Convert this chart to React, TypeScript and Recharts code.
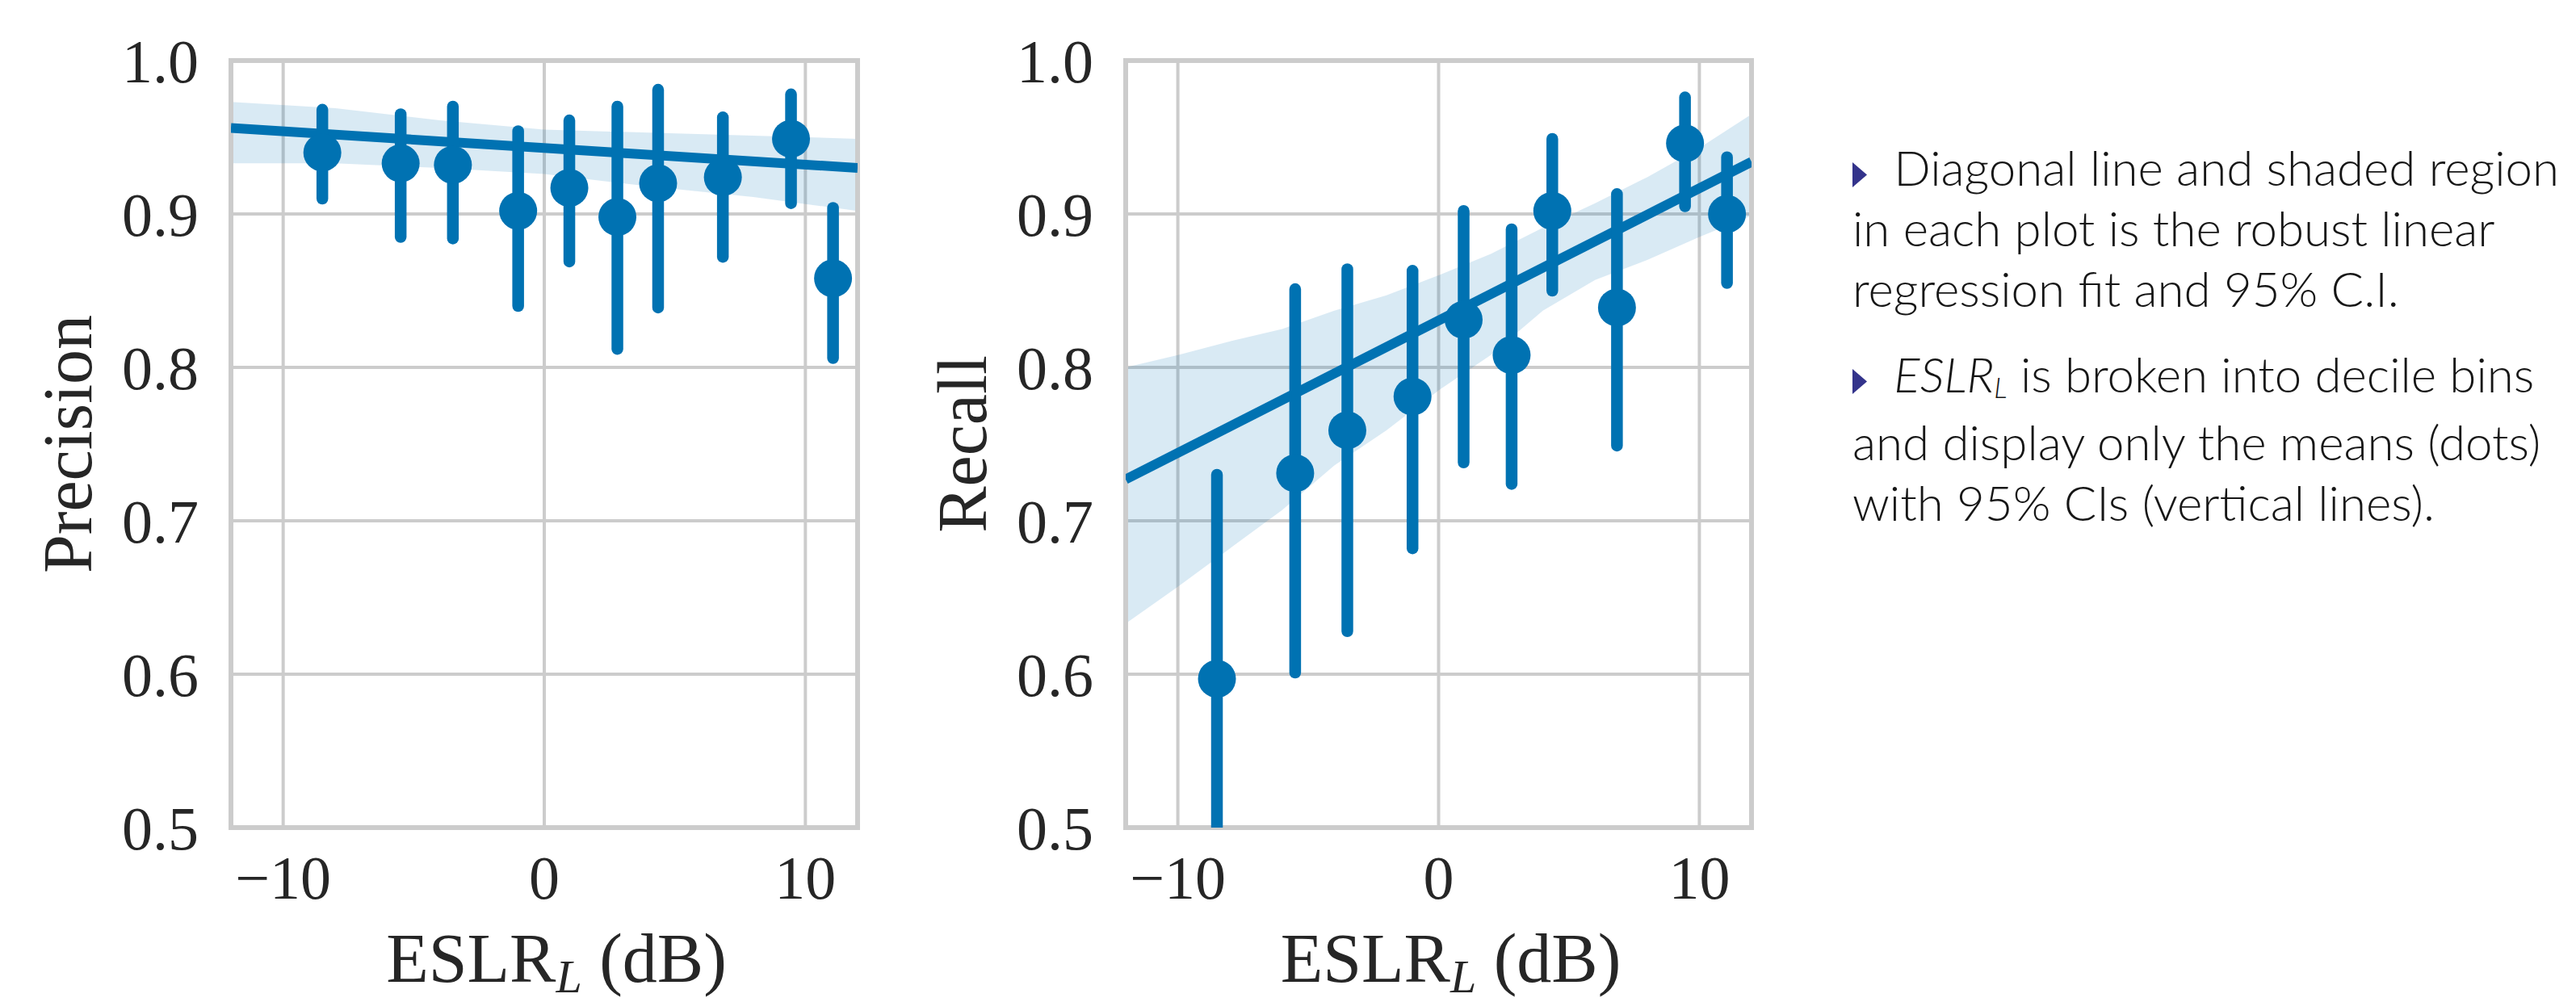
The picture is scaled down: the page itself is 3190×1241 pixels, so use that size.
import React from "react";
import {
  ComposedChart,
  XAxis,
  YAxis,
  CartesianGrid,
  Area,
  Line,
  Scatter,
  ReferenceArea,
} from "recharts";

const BLUE = "#0072b2";
const GRID = "#cccccc";
const INK = "#262626";
const SERIF = "'Liberation Serif', 'DejaVu Serif', serif";
const SANS = "Lato, 'Open Sans', sans-serif";

// decile bin centres (dB)
const binCentres = [-8.5, -5.5, -3.5, -1.0, 0.96, 2.8, 4.36, 6.84, 9.45, 11.06];

const precisionMean = [0.94, 0.933, 0.932, 0.902, 0.917, 0.898, 0.92, 0.924, 0.949, 0.858];
const precisionLow = [0.91, 0.885, 0.884, 0.84, 0.869, 0.812, 0.839, 0.872, 0.907, 0.806];
const precisionHigh = [0.968, 0.965, 0.97, 0.954, 0.961, 0.97, 0.981, 0.963, 0.978, 0.904];

const recallMean = [0.597, 0.731, 0.759, 0.781, 0.831, 0.808, 0.902, 0.839, 0.946, 0.9];
const recallLow = [0.46, 0.601, 0.628, 0.682, 0.738, 0.724, 0.85, 0.749, 0.905, 0.855];
const recallHigh = [0.73, 0.851, 0.864, 0.863, 0.902, 0.89, 0.949, 0.913, 0.976, 0.937];

// robust linear fit, end points
const fitX = [-12, 12];
const precisionFit = [0.956, 0.93];
const recallFit = [0.727, 0.934];

// 95% CI band of the fit
const precisionBandX = [-12, -8, -4, 0, 4, 8, 12];
const precisionBandLow = [0.933, 0.933, 0.93, 0.926, 0.918, 0.911, 0.902];
const precisionBandHigh = [0.973, 0.969, 0.961, 0.955, 0.953, 0.951, 0.949];

const recallBandX = [-12, -10, -8, -6, -4, -2, 0, 2, 4, 6, 8, 10, 12];
const recallBandLow = [0.633, 0.657, 0.682, 0.707, 0.736, 0.759, 0.785, 0.808, 0.837, 0.857, 0.87, 0.885, 0.899];
const recallBandHigh = [0.8, 0.808, 0.817, 0.825, 0.837, 0.847, 0.86, 0.874, 0.891, 0.907, 0.924, 0.943, 0.965];

const xTicks = [-10, 0, 10];
const yTicks = [0.5, 0.6, 0.7, 0.8, 0.9, 1.0];

const toMeans = (mean: number[]) => binCentres.map((x, i) => ({ x, y: mean[i] }));
const toIntervals = (low: number[], high: number[]) =>
  binCentres.map((x, i) => [
    { x, y: low[i] },
    { x, y: high[i] },
  ]);
const toFit = (ys: number[]) => fitX.map((x, i) => ({ x, y: ys[i] }));
const toBand = (xs: number[], lo: number[], hi: number[]) =>
  xs.map((x, i) => ({ x, band: [lo[i], hi[i]] }));

const fmtX = (v: number) => (v < 0 ? "\u2212" + Math.abs(v) : String(v));
const fmtY = (v: number) => v.toFixed(1);

const XLabel = (props: any) => {
  const { x, y, width } = props.viewBox;
  const cx = x + width / 2 + 15;
  return (
    <text x={cx} y={y + 191} textAnchor="middle" fontFamily={SERIF} fontSize={86} fill={INK}>
      ESLR
      <tspan fontStyle="italic" fontSize={58} dy={13}>
        L
      </tspan>
      <tspan dy={-13}> (dB)</tspan>
    </text>
  );
};

const YLabel = (props: any) => {
  const { x, y, width, height } = props.viewBox;
  const bx = x + width - 173;
  const cy = y + height / 2;
  return (
    <text
      x={bx}
      y={cy}
      transform={`rotate(-90 ${bx} ${cy})`}
      textAnchor="middle"
      fontFamily={SERIF}
      fontSize={86}
      fill={INK}
    >
      {props.caption}
    </text>
  );
};

const Dot = (p: any) => <circle cx={p.cx} cy={p.cy} r={23.5} fill={BLUE} />;

interface PanelProps {
  left: number;
  yAxisWidth: number;
  marginRight: number;
  caption: string;
  means: { x: number; y: number }[];
  intervals: { x: number; y: number }[][];
  fit: { x: number; y: number }[];
  band: { x: number; band: number[] }[];
}

const Panel = ({ left, yAxisWidth, marginRight, caption, means, intervals, fit, band }: PanelProps) => (
  <div style={{ position: "absolute", left, top: 0 }}>
    <ComposedChart width={1100} height={1241} margin={{ top: 75, right: marginRight, bottom: 0, left: 0 }}>
      <CartesianGrid stroke={GRID} strokeWidth={4} />
      <XAxis
        type="number"
        dataKey="x"
        domain={[-12, 12]}
        ticks={xTicks}
        allowDataOverflow
        axisLine={false}
        tickLine={false}
        tickSize={0}
        tickMargin={34}
        height={216}
        tickFormatter={fmtX}
        tick={{ fill: INK, fontSize: 76, fontFamily: SERIF }}
        label={<XLabel />}
      />
      <YAxis
        type="number"
        dataKey="y"
        domain={[0.5, 1.0]}
        ticks={yTicks}
        allowDataOverflow
        axisLine={false}
        tickLine={false}
        tickSize={0}
        tickMargin={40}
        width={yAxisWidth}
        tickFormatter={fmtY}
        tick={{ fill: INK, fontSize: 76, fontFamily: SERIF }}
        label={<YLabel caption={caption} />}
      />
      <Area
        data={band}
        dataKey="band"
        type="linear"
        stroke="none"
        fill={BLUE}
        fillOpacity={0.15}
        isAnimationActive={false}
      />
      <Line
        data={fit}
        dataKey="y"
        type="linear"
        stroke={BLUE}
        strokeWidth={12}
        dot={false}
        activeDot={false}
        isAnimationActive={false}
      />
      {intervals.map((seg, i) => (
        <Line
          key={"ci" + i}
          data={seg}
          dataKey="y"
          type="linear"
          stroke={BLUE}
          strokeWidth={14.5}
          strokeLinecap="round"
          dot={false}
          activeDot={false}
          isAnimationActive={false}
        />
      ))}
      <Scatter data={means} dataKey="y" shape={Dot} isAnimationActive={false} />
      <ReferenceArea
        x1={-12}
        x2={12}
        y1={0.5}
        y2={1.0}
        fill="none"
        stroke={GRID}
        strokeWidth={6}
        ifOverflow="visible"
      />
    </ComposedChart>
  </div>
);

const Bullet = () => (
  <svg width={18} height={31} style={{ marginRight: 17, verticalAlign: "-2px" }}>
    <polygon points="0,0 18,15.5 0,31" fill="#33338b" />
  </svg>
);

const App = () => (
  <div
    style={{
      position: "fixed",
      left: 0,
      top: 0,
      width: 3190,
      height: 1241,
      background: "#fff",
      overflow: "hidden",
    }}
  >
    <Panel
      left={0}
      yAxisWidth={286}
      marginRight={38}
      caption="Precision"
      means={toMeans(precisionMean)}
      intervals={toIntervals(precisionLow, precisionHigh)}
      fit={toFit(precisionFit)}
      band={toBand(precisionBandX, precisionBandLow, precisionBandHigh)}
    />
    <Panel
      left={1100}
      yAxisWidth={294}
      marginRight={31}
      caption="Recall"
      means={toMeans(recallMean)}
      intervals={toIntervals(recallLow, recallHigh)}
      fit={toFit(recallFit)}
      band={toBand(recallBandX, recallBandLow, recallBandHigh)}
    />
    <div
      style={{
        position: "absolute",
        left: 2294,
        top: 170,
        fontFamily: SANS,
        fontSize: 60,
        fontWeight: 300,
        lineHeight: "75px",
        color: "#161616",
        whiteSpace: "nowrap",
      }}
    >
      <div>
        <Bullet /> Diagonal line and shaded region
        <br />
        in each plot is the robust linear
        <br />
        regression fit and 95% C.I.
      </div>
      <div style={{ marginTop: 31 }}>
        <Bullet />{" "}
        <i>
          ESLR
          <span style={{ fontSize: "0.58em", position: "relative", top: "0.2em" }}>L</span>
        </i>{" "}
        is broken into decile bins
        <br />
        and display only the means (dots)
        <br />
        with 95% CIs (vertical lines).
      </div>
    </div>
  </div>
);

export default App;
